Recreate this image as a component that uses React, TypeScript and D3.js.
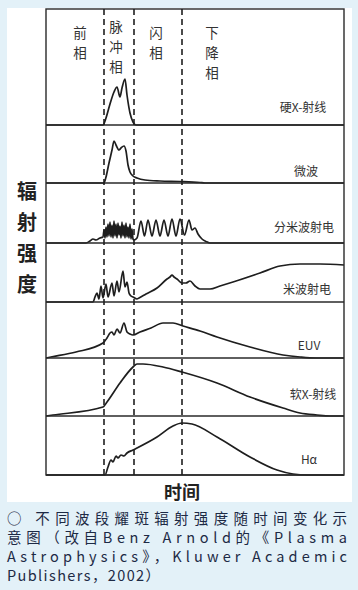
import React from "react";
import * as d3 from "d3";

// ---------- data (time in arbitrary units 0..298, intensity in arbitrary units) ----------
const phaseBoundaries = [58, 88, 136];
const phaseNames = [["前", "相"], ["脉", "冲", "相"], ["闪", "相"], ["下", "降", "相"]];
const rowLabels = ["硬X-射线", "微波", "分米波射电", "米波射电", "EUV", "软X-射线", "Hα"];

const hardXray: [number, number][] = [
  [0, 0], [57, 0], [60, 7], [64, 21], [68, 33], [71, 38], [74, 28], [76, 37], [79, 46],
  [81, 30], [84, 12], [87, 3], [90, 0], [298, 0],
];
const microwave: [number, number][] = [
  [0, 0], [58, 0], [60, 6], [63, 20], [66, 33], [68, 42], [70, 38], [73, 33], [75, 35],
  [78, 37], [80, 32], [82, 18], [84, 11], [87, 7], [91, 5], [99, 3], [114, 2], [134, 1.5],
  [154, 0.5], [159, 0], [298, 0],
];
const decimeter: [number, number][] = [
  [0, 0], [40, 0], [44, 2], [47, 4], [50, 3], [54, 5], [57, 6],
  [58, 13], [59, 5], [60, 16], [61, 6], [62, 19], [63, 7], [64, 21], [65, 6], [66, 18],
  [67, 5], [68, 22], [69, 7], [70, 19], [71, 5], [72, 20], [73, 8], [74, 17], [75, 5],
  [76, 21], [77, 7], [78, 18], [79, 5], [80, 20], [81, 6], [82, 16], [83, 5], [84, 19],
  [85, 4], [86, 14], [87, 4], [88, 3],
  [91, 5], [95, 22], [98.5, 7], [102, 23], [106, 7], [110, 23], [114, 7], [118, 23],
  [122, 7], [126, 24], [130, 7], [134, 24], [138.5, 8], [143, 23], [146, 13], [149, 15],
  [152, 9], [156, 4], [160, 1.5], [164, 0], [298, 0],
];
const meter: [number, number][] = [
  [0, 0], [47, 0], [49, 5], [51, 9], [53, 3], [55, 16], [57, 4], [60, 18], [62, 5],
  [66, 19], [68, 6], [71, 21], [73, 10], [77, 31], [79, 15], [81, 20], [83, 9], [85, 6],
  [87, 5], [91, 3], [93, 4], [100, 8], [111, 14], [121, 23], [124, 25], [126, 27],
  [128, 25], [131, 23], [136, 19], [140, 19], [144, 21], [149, 16], [154, 13], [164, 13],
  [174, 16], [187, 20], [214, 29], [234, 36], [254, 38], [274, 38], [298, 37],
];
const euv: [number, number][] = [
  [0, 0], [5, 1], [30, 6], [57, 15], [61, 20], [64, 25], [66, 26], [68, 23], [71, 29],
  [74, 25], [78, 35], [81, 26], [84, 24], [87, 23], [94, 26], [105, 30], [117, 35],
  [127, 35], [137, 32], [154, 27], [171, 21], [204, 11], [237, 3], [254, 1], [270, 0], [298, 0],
];
const softXray: [number, number][] = [
  [0, 0], [7, 1], [57, 9], [61, 14], [74, 33], [87, 49], [91, 52], [97, 52], [117, 49],
  [136, 44], [171, 33], [204, 19], [237, 8], [254, 3], [271, 1], [284, 0], [298, 0],
];
const halpha: [number, number][] = [
  [0, 0], [59, 0], [62, 8], [65, 15], [67, 13], [70, 19], [72, 17], [75, 20], [78, 19],
  [81, 22], [87, 25], [111, 38], [127, 49], [136, 52], [146, 51], [171, 38], [204, 18],
  [231, 5], [247, 1], [261, 0], [298, 0],
];
const seriesList = [hardXray, microwave, decimeter, meter, euv, softXray, halpha];

const captionLines = [
  "○ 不同波段耀斑辐射强度随时间变化示",
  "意图（改自Benz Arnold的《Plasma",
  "Astrophysics》，Kluwer Academic",
  "Publishers，2002）",
];
const yAxisTitle = ["辐", "射", "强", "度"];
const xAxisTitle = "时间";

// ---------- layout ----------
const W = 358, H = 590;
const plotL = 46, plotR = 344, plotT = 9;
const baselines = [125, 183, 243, 302, 358, 416, 475];
const labelX = [303, 306, 304, 307, 309, 313, 309];
const labelY = [108, 172, 228, 290, 346, 395, 460];
const phaseX = [34, 70, 110, 166];
const phaseY0 = [33, 27, 33, 33];
const phaseStep = [20, 20, 20, 20];
const captionY = [524, 543, 562, 581];
const captionLen = [340, 340, 340, 153];
const CJK = '"Noto Sans CJK SC", "Noto Sans", sans-serif';

export default function App() {
  const x = d3.scaleLinear().domain([0, 298]).range([plotL, plotR]);
  const bottom = baselines[baselines.length - 1];

  return (
    <div style={{ position: "absolute", left: 0, top: 0, width: W, height: H }}>
      <svg width={W} height={H} style={{ display: "block" }}>
        <rect x={0} y={0} width={W} height={H} fill="#e3f1f8" />
        <rect x={7} y={8} width={345} height={494} fill="#ffffff" />

        {/* rows */}
        {seriesList.map((s, i) => {
          const y = d3.scaleLinear().domain([0, 50]).range([baselines[i], baselines[i] - 50]);
          const line = d3
            .line<[number, number]>()
            .x((d) => x(d[0]))
            .y((d) => y(d[1]))
            .curve(d3.curveMonotoneX);
          return (
            <g key={i}>
              <path d={line(s) || ""} fill="none" stroke="#1e1e1e" strokeWidth={1.7} strokeLinejoin="round" />
              <line x1={plotL} x2={plotR} y1={baselines[i]} y2={baselines[i]} stroke="#2a2a2a" strokeWidth={1.4} />
              <text
                x={labelX[i]}
                y={labelY[i] + 4}
                textAnchor="middle"
                fontSize={12}
                fontFamily={CJK}
                fill="#333"
              >
                {rowLabels[i]}
              </text>
            </g>
          );
        })}

        {/* box */}
        <rect
          x={plotL}
          y={plotT}
          width={plotR - plotL}
          height={bottom - plotT}
          fill="none"
          stroke="#2a2a2a"
          strokeWidth={1.4}
        />

        {/* phase boundaries */}
        {phaseBoundaries.map((t, i) => (
          <line
            key={i}
            x1={x(t)}
            x2={x(t)}
            y1={plotT}
            y2={bottom}
            stroke="#1e1e1e"
            strokeWidth={1.6}
            strokeDasharray="6,4"
          />
        ))}

        {/* phase names */}
        {phaseNames.map((chars, i) =>
          chars.map((c, j) => (
            <text
              key={i + "-" + j}
              x={x(phaseX[i])}
              y={phaseY0[i] + j * phaseStep[i] + 5}
              textAnchor="middle"
              fontSize={13.5}
              fontFamily={CJK}
              fill="#333"
            >
              {c}
            </text>
          ))
        )}

        {/* y title */}
        {yAxisTitle.map((c, i) => (
          <text
            key={i}
            x={27}
            y={192 + i * 31 + 7}
            textAnchor="middle"
            fontSize={20}
            fontWeight={700}
            fontFamily={CJK}
            fill="#222"
          >
            {c}
          </text>
        ))}

        {/* x title */}
        <text x={182} y={499} textAnchor="middle" fontSize={18} fontWeight={700} fontFamily={CJK} fill="#222">
          {xAxisTitle}
        </text>

        {/* caption */}
        {captionLines.map((l, i) => (
          <text
            key={i}
            x={7}
            y={captionY[i]}
            fontSize={14.5}
            fontFamily={CJK}
            fill="#1d2a45"
            textLength={captionLen[i]}
            lengthAdjust="spacing"
          >
            {l}
          </text>
        ))}
      </svg>
    </div>
  );
}
